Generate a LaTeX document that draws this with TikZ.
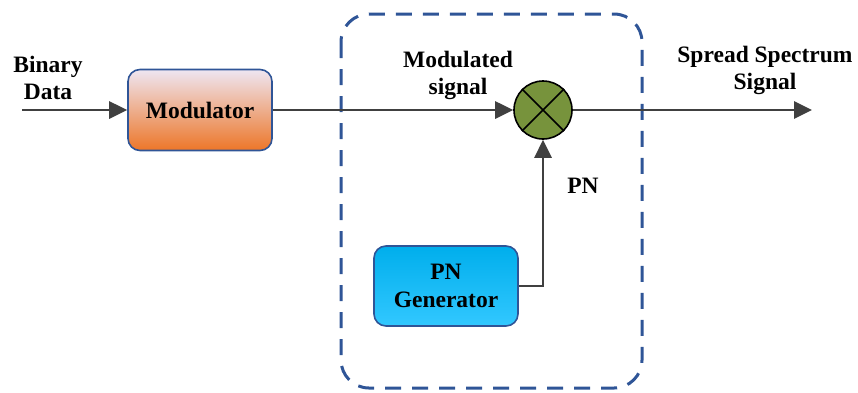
\documentclass[tikz,border=0pt]{standalone}
\usepackage{fontspec}
\setmainfont{Liberation Serif}[BoldFont={Liberation Serif Bold}]
\usetikzlibrary{arrows.meta}
\definecolor{edge}{HTML}{2F5597}
\definecolor{wire}{HTML}{404040}
\definecolor{mixg}{HTML}{77933C}
\tikzset{
  lbl/.style={font=\fontsize{23.5}{27}\selectfont\bfseries, align=center, inner sep=0pt},
  blk/.style={draw=edge, line width=1.6pt, rounded corners=12pt, minimum width=144pt, minimum height=81pt, font=\fontsize{23.5}{28}\selectfont\bfseries, align=center},
  wirel/.style={draw=wire, line width=2.8pt, -{Triangle[length=18pt,width=17pt]}},
}
\begin{document}
\begin{tikzpicture}[x=1pt,y=-1pt]
\useasboundingbox (0,0) rectangle (858,392);
\draw[edge, line width=3pt, dash pattern=on 16pt off 11pt, rounded corners=28pt] (341,14) rectangle (642,388);
\node[blk, top color={rgb,255:red,238;green,230;blue,242}, bottom color={rgb,255:red,237;green,118;blue,40}] (mod) at (200,110) {Modulator};
\node[blk, minimum height=80pt, top color={rgb,255:red,0;green,174;blue,236}, bottom color={rgb,255:red,50;green,200;blue,255}] (gen) at (446,286) {PN\\Generator};
\node[circle, draw=black, line width=1.6pt, fill=mixg, minimum size=58pt, inner sep=0pt] (mix) at (543,110) {};
\draw[black, line width=1.6pt] (mix.north west) -- (mix.south east) (mix.north east) -- (mix.south west);
\coordinate (in) at (22,110);
\coordinate (out) at (812,110);
\coordinate (bend) at (543,286);
\draw[wirel] (in) -- (mod);
\draw[wirel] (mod) -- (mix);
\draw[wirel] (mix) -- (out);
\draw[wirel] (gen.east) -- (bend) -- (mix.south);
\node[lbl] (lbin) at (48,78) {Binary\\Data};
\node[lbl] (lmod) at (458,75) {Modulated\\signal};
\node[lbl] (lss) at (765,70) {Spread Spectrum\\Signal};
\node[lbl] (lpn) at (583,186) {PN};
\end{tikzpicture}
\end{document}
